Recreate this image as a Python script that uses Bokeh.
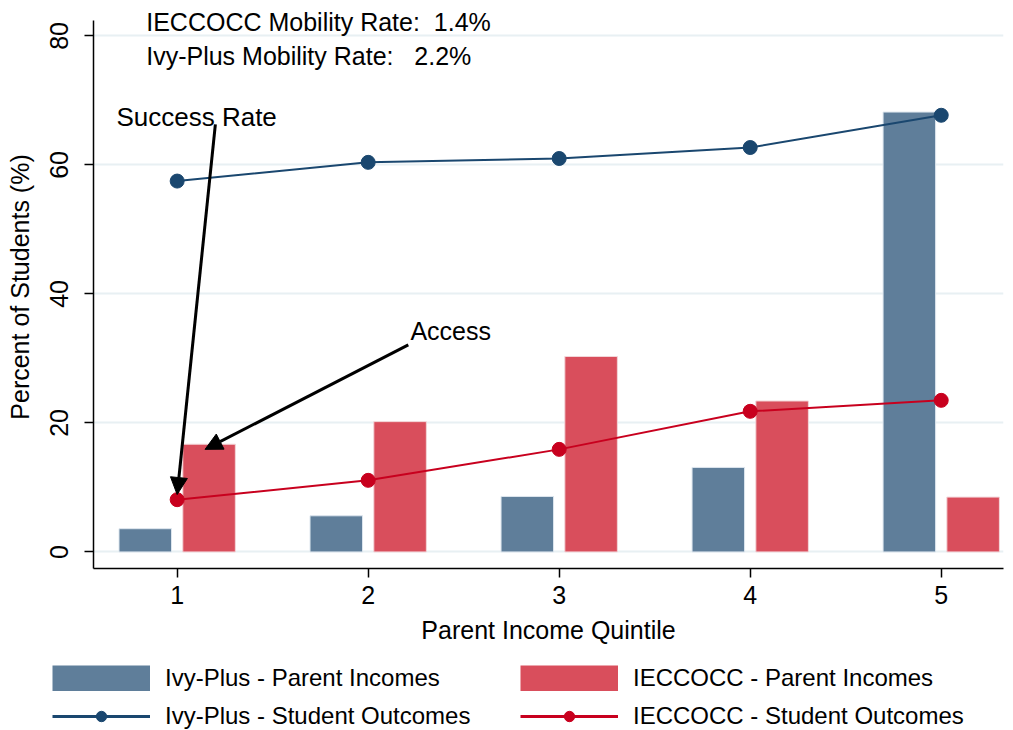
from bokeh.plotting import figure
from bokeh.layouts import column
from bokeh.models import (Range1d, Legend, LegendItem, Label, Arrow, NormalHead,
                          FixedTicker)
from bokeh.embed import file_html
from bokeh.resources import INLINE

quintiles = [1, 2, 3, 4, 5]
ivy_parent = [3.6, 5.6, 8.6, 13.1, 68.2]
iec_parent = [16.7, 20.2, 30.3, 23.4, 8.5]
ivy_outcome = [57.5, 60.4, 61.0, 62.7, 67.7]
iec_outcome = [8.1, 11.1, 15.9, 21.8, 23.5]
y_ticks = [0, 20, 40, 60, 80]
NB = "\u00a0"
mobility_iec = "IECCOCC Mobility Rate:" + NB * 2 + "1.4%"
mobility_ivy = "Ivy-Plus Mobility Rate:" + NB * 3 + "2.2%"
legend_labels = ["Ivy-Plus - Parent Incomes", "Ivy-Plus - Student Outcomes",
                 "IECCOCC - Parent Incomes", "IECCOCC - Student Outcomes"]

FONT = "Liberation Sans"
IVY_BAR = "#5f7e9a"
IEC_BAR = "#d94e5c"
IVY_LINE = "#1a476f"
IEC_LINE = "#c8001e"

p = figure(width=1008, height=651, output_backend="svg", toolbar_location=None,
           x_range=Range1d(0.562, 5.326), y_range=Range1d(-2.57, 84.72),
           min_border_left=93, min_border_top=5, min_border_right=5,
           min_border_bottom=83)
p.outline_line_color = None
p.background_fill_color = "white"
p.frame_align = False

off = 0.167
bw = 0.275
ivy_x = [q - off for q in quintiles]
iec_x = [q + off for q in quintiles]
p.vbar(x=ivy_x, top=ivy_parent, bottom=0, width=bw, fill_color=IVY_BAR,
       line_color="#dde6ee", line_width=1)
p.vbar(x=iec_x, top=iec_parent, bottom=0, width=bw, fill_color=IEC_BAR,
       line_color="#f3d6d9", line_width=1)

p.line(quintiles, ivy_outcome, line_color=IVY_LINE, line_width=2)
p.scatter(quintiles, ivy_outcome, size=14, fill_color=IVY_LINE, line_color=IVY_LINE)
p.line(quintiles, iec_outcome, line_color=IEC_LINE, line_width=2)
p.scatter(quintiles, iec_outcome, size=14, fill_color=IEC_LINE, line_color=IEC_LINE)

# axes
p.xaxis.ticker = FixedTicker(ticks=quintiles)
p.yaxis.ticker = FixedTicker(ticks=y_ticks)
for ax in (p.xaxis, p.yaxis):
    ax.axis_line_color = "black"
    ax.axis_line_width = 1.5
    ax.major_tick_line_color = "black"
    ax.major_tick_line_width = 1.5
    ax.major_tick_out = 9
    ax.major_tick_in = 0
    ax.minor_tick_line_color = None
    ax.major_label_text_font = FONT
    ax.major_label_text_font_size = "25px"
    ax.major_label_text_color = "black"
    ax.axis_label_text_font = FONT
    ax.axis_label_text_font_size = "25px"
    ax.axis_label_text_font_style = "normal"
    ax.axis_label_text_color = "black"
p.yaxis.bounds = (-2.57, 82.4)
p.yaxis.major_label_orientation = "vertical"
p.xaxis.axis_label = "Parent Income Quintile"
p.yaxis.axis_label = "Percent of Students (%)"
p.xaxis.major_label_standoff = 8
p.yaxis.major_label_standoff = 16
p.xaxis.axis_label_standoff = 9
p.yaxis.axis_label_standoff = 14

p.xgrid.grid_line_color = None
p.ygrid.ticker = FixedTicker(ticks=y_ticks)
p.ygrid.grid_line_color = "#e8f0f3"
p.ygrid.grid_line_width = 2

# annotations
for txt, yy in ((mobility_iec, 82.1), (mobility_ivy, 76.9)):
    p.add_layout(Label(x=0.838, y=yy, text=txt, text_font=FONT, text_font_size="25px",
                       text_baseline="middle", text_align="left", text_color="black"))
p.add_layout(Label(x=0.682, y=67.4, text="Success Rate", text_font=FONT, text_font_size="26px",
                   text_baseline="middle", text_color="black"))
p.add_layout(Label(x=2.221, y=34.2, text="Access", text_font=FONT, text_font_size="25px",
                   text_baseline="middle", text_color="black"))
p.add_layout(Arrow(end=NormalHead(size=17, fill_color="black", line_color="black"),
                   x_start=1.2, y_start=66.3, x_end=1.0, y_end=8.9,
                   line_color="black", line_width=3))
p.add_layout(Arrow(end=NormalHead(size=17, fill_color="black", line_color="black"),
                   x_start=2.21, y_start=32.1, x_end=1.146, y_end=15.9,
                   line_color="black", line_width=3))

# legend strip below the chart; its renderers use the same data, kept out of view
lp = figure(width=1008, height=79, output_backend="svg", toolbar_location=None,
            x_range=Range1d(100, 101), y_range=Range1d(100, 101),
            x_axis_location=None, y_axis_location=None,
            min_border_left=0, min_border_right=0, min_border_top=0, min_border_bottom=0)
lp.outline_line_color = None
lp.grid.visible = False
lp.frame_align = False
g_ivy_bar = lp.line(x=ivy_x, y=ivy_parent, line_color=IVY_BAR, line_width=26, line_cap="butt")
g_ivy_line = lp.line(x=quintiles, y=ivy_outcome, line_color=IVY_LINE, line_width=3)
g_ivy_pt = lp.scatter(x=quintiles, y=ivy_outcome, size=14, fill_color=IVY_LINE, line_color=IVY_LINE)
g_iec_bar = lp.line(x=iec_x, y=iec_parent, line_color=IEC_BAR, line_width=26, line_cap="butt")
g_iec_line = lp.line(x=quintiles, y=iec_outcome, line_color=IEC_LINE, line_width=3)
g_iec_pt = lp.scatter(x=quintiles, y=iec_outcome, size=14, fill_color=IEC_LINE, line_color=IEC_LINE)

legend = Legend(items=[
    LegendItem(label=legend_labels[0], renderers=[g_ivy_bar]),
    LegendItem(label=legend_labels[1], renderers=[g_ivy_line, g_ivy_pt]),
    LegendItem(label=legend_labels[2], renderers=[g_iec_bar]),
    LegendItem(label=legend_labels[3], renderers=[g_iec_line, g_iec_pt]),
], orientation="vertical", ncols=2)
legend.glyph_width = 98
legend.glyph_height = 26
legend.label_standoff = 15
legend.label_width = 345
legend.spacing = 10
legend.padding = 0
legend.margin = 0
legend.border_line_color = None
legend.background_fill_alpha = 0
legend.label_text_font = FONT
legend.label_text_font_size = "24px"
legend.label_text_color = "black"
legend.location = (52, 0)
lp.add_layout(legend, "center")

layout = column(p, lp, spacing=0)
open("out.html", "w").write(file_html(layout, INLINE))
